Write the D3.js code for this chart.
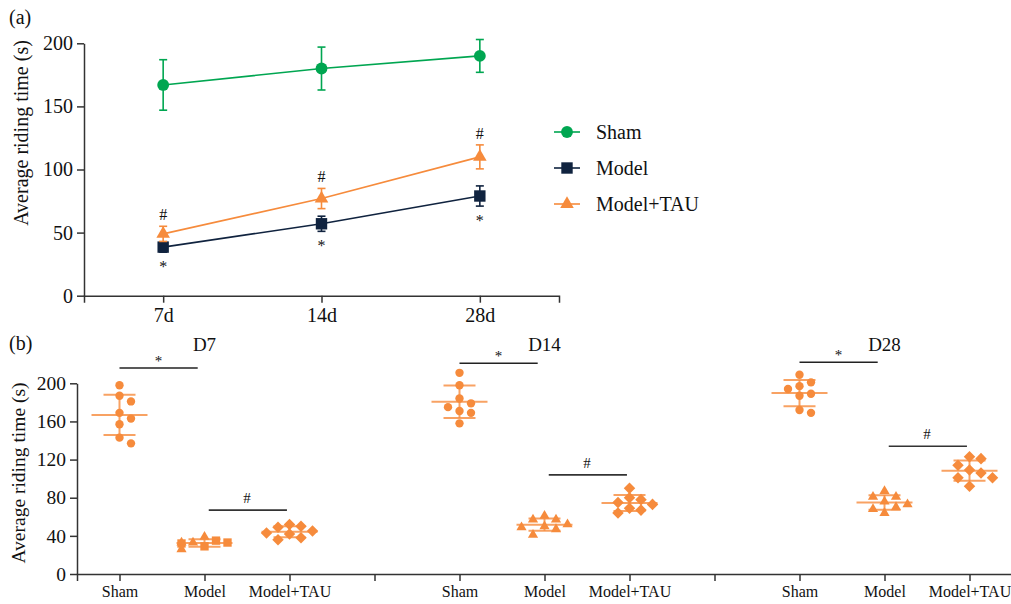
<!DOCTYPE html>
<html>
<head>
<meta charset="utf-8">
<script src="https://d3js.org/d3.v7.min.js"></script>
<style>
body { margin: 0; background: #fff; }
.axis path, .axis line { stroke: #333; stroke-width: 1.5; }
</style>
</head>
<body>
<script>
// panel (a): means and SD per time point
var days = ["7d", "14d", "28d"];
var shamMean = [167, 180, 190];
var shamSD = [20, 17, 13];
var modelMean = [38.5, 57, 79];
var modelSD = [4, 6, 8];
var tauMean = [49, 77, 110];
var tauSD = [6, 8, 9.5];
var seriesNames = ["Sham", "Model", "Model+TAU"];

// panel (b): single animals
var groups = ["Sham", "Model", "Model+TAU"];
var panels = ["D7", "D14", "D28"];
var d7Sham = [198, 187, 181, 169, 163, 157, 143, 137];
var d7Model = [33, 32, 39, 35, 26, 33, 29, 33];
var d7Tau = [45, 42, 49, 52, 36, 38, 43, 50];
var d14Sham = [211, 198, 184, 179, 175, 171, 169, 158];
var d14Model = [52, 57, 57, 61, 49, 41, 47, 50];
var d14Tau = [90, 80, 78, 75, 73, 69, 64, 67];
var d28Sham = [209, 197, 201, 194, 189, 187, 169, 172];
var d28Model = [87, 81, 81, 76, 73, 70, 68, 64];
var d28Tau = [121, 123, 114, 109, 106, 101, 101, 92];
// heights of significance bars (s)
var starBar = [216, 221, 222];
var hashBar = [67, 104, 134];

var green = "#00a651", navy = "#10233f", orange = "#f68b3c";
var FONT = "'Liberation Serif', 'Times New Roman', serif";
var d7ModelShapes = ["triangle", "square", "triangle", "square", "triangle", "square", "square", "triangle"];

var svg = d3.select("body").append("svg").attr("width", 1011).attr("height", 604);

// ---------- panel (a)
svg.append("text").attr("x", 9).attr("y", 24).attr("font-size", 20).text("(a)");

var xA = d3.scalePoint().domain(days).range([84, 559]).padding(0.5);
var yA = d3.scaleLinear().domain([0, 200]).range([295.7, 43.3]);

svg.append("g").attr("class", "axis").attr("transform", "translate(0,295.7)")
  .call(d3.axisBottom(xA).tickSize(7).tickSizeOuter(7).tickPadding(4))
  .selectAll("text").attr("font-size", 20).attr("dy", "0.75em");
svg.append("g").attr("class", "axis").attr("transform", "translate(84,0)")
  .call(d3.axisLeft(yA).tickValues([0, 50, 100, 150, 200]).tickSize(7).tickSizeOuter(0).tickPadding(4))
  .selectAll("text").attr("font-size", 20);

svg.append("text").attr("transform", "translate(28,133) rotate(-90)")
  .attr("text-anchor", "middle").attr("font-size", 20).text("Average riding time (s)");

var seriesA = [
  {name: "Sham", mean: shamMean, sd: shamSD, color: green, shape: d3.symbolCircle, size: 110},
  {name: "Model", mean: modelMean, sd: modelSD, color: navy, shape: d3.symbolSquare, size: 130},
  {name: "Model+TAU", mean: tauMean, sd: tauSD, color: orange, shape: d3.symbolTriangle, size: 80}
];
var lineA = d3.line().x(function(d, i){ return xA(days[i]); }).y(function(d){ return yA(d); });

seriesA.forEach(function(s){
  var g = svg.append("g");
  g.append("path").attr("d", lineA(s.mean)).attr("fill", "none").attr("stroke", s.color).attr("stroke-width", 1.6);
  s.mean.forEach(function(m, i){
    var x = xA(days[i]);
    var lo = yA(m - s.sd[i]), hi = yA(m + s.sd[i]);
    g.append("line").attr("x1", x).attr("x2", x).attr("y1", lo).attr("y2", hi).attr("stroke", s.color).attr("stroke-width", 1.6);
    g.append("line").attr("x1", x - 4).attr("x2", x + 4).attr("y1", lo).attr("y2", lo).attr("stroke", s.color).attr("stroke-width", 1.6);
    g.append("line").attr("x1", x - 4).attr("x2", x + 4).attr("y1", hi).attr("y2", hi).attr("stroke", s.color).attr("stroke-width", 1.6);
    g.append("path").attr("d", d3.symbol().type(s.shape).size(s.size)())
      .attr("transform", "translate(" + x + "," + yA(m) + ")").attr("fill", s.color);
  });
});

// significance marks in (a)
days.forEach(function(d, i){
  svg.append("text").attr("x", xA(d)).attr("y", yA(tauMean[i] + tauSD[i]) - 6)
    .attr("text-anchor", "middle").attr("font-size", 16).text("#");
  svg.append("text").attr("x", xA(d)).attr("y", yA(modelMean[i] - modelSD[i]) + 20)
    .attr("text-anchor", "middle").attr("font-size", 16).text("*");
});

// legend
var legend = svg.append("g");
seriesA.forEach(function(s, i){
  var y = 132 + i * 36;
  legend.append("line").attr("x1", 554).attr("x2", 580).attr("y1", y).attr("y2", y).attr("stroke", s.color).attr("stroke-width", 1.6);
  legend.append("path").attr("d", d3.symbol().type(s.shape).size(s.size)())
    .attr("transform", "translate(567," + y + ")").attr("fill", s.color);
  legend.append("text").attr("x", 596).attr("y", y).attr("dy", "0.35em").attr("font-size", 20).text(seriesNames[i]);
});

// ---------- panel (b)
svg.append("text").attr("x", 9).attr("y", 350).attr("font-size", 20).text("(b)");

var xB = d3.scaleLinear().domain([-0.5, 10.5]).range([77, 1012]);
var yB = d3.scaleLinear().domain([0, 200]).range([574, 383.3]);
var tickPos = d3.range(0, 11);

svg.append("g").attr("class", "axis").attr("transform", "translate(0,574)")
  .call(d3.axisBottom(xB).tickValues(tickPos).tickSize(7).tickSizeOuter(7).tickPadding(4)
    .tickFormat(function(p){ return (p % 4 === 3) ? "" : groups[p % 4]; }))
  .selectAll("text").attr("font-size", 16).attr("dy", "0.75em");
svg.append("g").attr("class", "axis").attr("transform", "translate(77,0)")
  .call(d3.axisLeft(yB).tickValues([0, 40, 80, 120, 160, 200]).tickSize(7).tickSizeOuter(0).tickPadding(4))
  .selectAll("text").attr("font-size", 19.5);

svg.append("text").attr("transform", "translate(25,473) rotate(-90)")
  .attr("text-anchor", "middle").attr("font-size", 19.5).text("Average riding time (s)");

var panelData = [[d7Sham, d7Model, d7Tau], [d14Sham, d14Model, d14Tau], [d28Sham, d28Model, d28Tau]];

function symbolFor(gi, pi, k){
  if (gi === 0) return d3.symbol().type(d3.symbolCircle).size(55)();
  if (gi === 2) return d3.symbol().type(d3.symbolDiamond2).size(85)();
  if (pi === 0 && d7ModelShapes[k] === "square") return d3.symbol().type(d3.symbolSquare).size(70)();
  return d3.symbol().type(d3.symbolTriangle).size(45)();
}

// spread points sideways so they do not overlap
function swarm(vals, cx){
  var pts = vals.map(function(v, k){ return {v: v, k: k, y: yB(v)}; })
    .sort(function(a, b){ return a.y - b.y; });
  var placed = [], step = 11.5;
  var offs = [0, 1, -1, 2, -2];
  pts.forEach(function(p){
    for (var j = 0; j < offs.length; j++){
      var x = cx + offs[j] * step;
      var ok = placed.every(function(q){ return Math.hypot(q.x - x, q.y - p.y) >= 9.5; });
      if (ok || j === offs.length - 1){ p.x = x; break; }
    }
    placed.push(p);
  });
  return pts;
}

panels.forEach(function(name, pi){
  var base = pi * 4;
  svg.append("text").attr("x", xB(base + 1)).attr("y", 351).attr("text-anchor", "middle")
    .attr("font-size", 19).text(name);

  panelData[pi].forEach(function(vals, gi){
    var cx = xB(base + gi);
    var m = d3.mean(vals), sd = d3.deviation(vals);
    var g = svg.append("g");
    g.append("line").attr("x1", cx).attr("x2", cx).attr("y1", yB(m - sd)).attr("y2", yB(m + sd))
      .attr("stroke", orange).attr("stroke-opacity", 0.8).attr("stroke-width", 2);
    g.append("line").attr("x1", cx - 28).attr("x2", cx + 28).attr("y1", yB(m)).attr("y2", yB(m))
      .attr("stroke", orange).attr("stroke-opacity", 0.8).attr("stroke-width", 2);
    [m - sd, m + sd].forEach(function(v){
      g.append("line").attr("x1", cx - 16).attr("x2", cx + 16).attr("y1", yB(v)).attr("y2", yB(v))
        .attr("stroke", orange).attr("stroke-opacity", 0.8).attr("stroke-width", 2);
    });
    swarm(vals, cx).forEach(function(p){
      g.append("path").attr("d", symbolFor(gi, pi, p.k))
        .attr("transform", "translate(" + p.x + "," + p.y + ")").attr("fill", orange);
    });
  });

  // significance bars
  var ys = yB(starBar[pi]);
  svg.append("line").attr("x1", xB(base)).attr("x2", xB(base + 0.92)).attr("y1", ys).attr("y2", ys)
    .attr("stroke", "#222").attr("stroke-width", 1.6);
  svg.append("text").attr("x", xB(base + 0.46)).attr("y", ys - 2).attr("text-anchor", "middle")
    .attr("font-size", 15).text("*");
  var yh = yB(hashBar[pi]);
  svg.append("line").attr("x1", xB(base + 1.05)).attr("x2", xB(base + 1.97)).attr("y1", yh).attr("y2", yh)
    .attr("stroke", "#333").attr("stroke-width", 1.6);
  svg.append("text").attr("x", xB(base + 1.5)).attr("y", yh - 7).attr("text-anchor", "middle")
    .attr("font-size", 15).text("#");
});

// one font for every text, axes included
svg.selectAll("text").style("font-family", FONT).style("fill", "#111");
</script>
</body>
</html>
